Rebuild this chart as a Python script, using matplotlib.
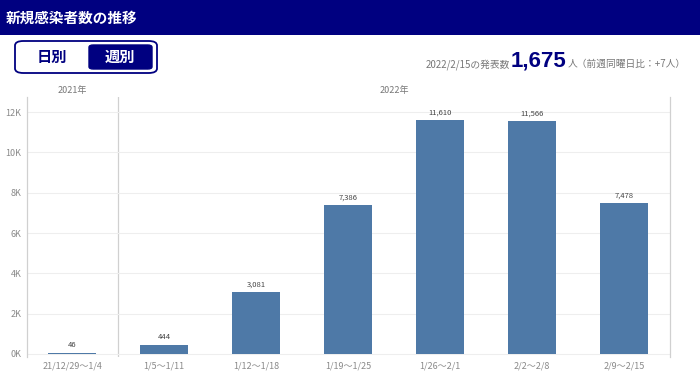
import matplotlib
matplotlib.use("Agg")
import matplotlib.pyplot as plt
from matplotlib.patches import Rectangle, FancyBboxPatch
import matplotlib.transforms as mtransforms

plt.rcParams['font.family'] = ['Noto Sans CJK JP', 'DejaVu Sans']

categories = ["21/12/29〜1/4", "1/5〜1/11", "1/12〜1/18", "1/19〜1/25",
              "1/26〜2/1", "2/2〜2/8", "2/9〜2/15"]
values = [46, 444, 3081, 7386, 11610, 11566, 7478]
yticks = [0, 2000, 4000, 6000, 8000, 10000, 12000]
ytick_labels = ["0K", "2K", "4K", "6K", "8K", "10K", "12K"]
year_labels = ["2021年", "2022年"]

NAVY = "#000080"
BAR = "#4E79A7"
W, H = 700, 376

fig = plt.figure(figsize=(7, 3.76), dpi=100)

def fx(px):
    return px / W

def fy(py):
    return 1 - py / H

# Header bar
fig.patches.append(Rectangle((0, fy(35)), 1, 35 / H, transform=fig.transFigure,
                             facecolor=NAVY, edgecolor='none', zorder=0))
fig.text(fx(6), fy(18), "新規感染者数の推移", color="white", fontsize=10.5,
         fontweight='bold', va='center', ha='left')

# Toggle
fig.patches.append(FancyBboxPatch((fx(15), fy(73)), fx(142), 32 / H,
                                  boxstyle="round,pad=0,rounding_size=0.012",
                                  transform=fig.transFigure, facecolor='white',
                                  edgecolor=NAVY, linewidth=1.3))
fig.patches.append(FancyBboxPatch((fx(89), fy(69)), fx(63), 24 / H,
                                  boxstyle="round,pad=0,rounding_size=0.006",
                                  transform=fig.transFigure, facecolor=NAVY,
                                  edgecolor=NAVY, linewidth=1))
fig.text(fx(52), fy(57), "日別", color=NAVY, fontsize=11, fontweight='bold',
         ha='center', va='center')
fig.text(fx(120), fy(57), "週別", color='white', fontsize=11, fontweight='bold',
         ha='center', va='center')

# Top right summary
fig.text(fx(510), fy(67), "2022/2/15の発表数", color="#777777", fontsize=7,
         ha='right', va='baseline')
fig.text(fx(511), fy(67), "1,675", color=NAVY, fontsize=16, fontweight='bold',
         ha='left', va='baseline', family=['Liberation Sans', 'DejaVu Sans'])
fig.text(fx(568), fy(67), "人（前週同曜日比：+7人）", color="#777777", fontsize=7,
         ha='left', va='baseline')

# Axes
ax = fig.add_axes([fx(27), fy(357), fx(643), (357 - 97) / H])
x = list(range(len(categories)))
ax.bar(x, values, width=0.53, color=BAR, zorder=3)
ax.set_xlim(-0.49, 6.5)
ax.set_ylim(-150, 12750)
ax.set_yticks(yticks)
ax.set_yticklabels(ytick_labels)
ax.set_xticks(x)
ax.set_xticklabels(categories)
ax.tick_params(axis='both', length=0, colors="#8a8a8a", labelsize=6.5)
ax.tick_params(axis='x', pad=3)
ax.tick_params(axis='y', pad=4)
ax.grid(axis='y', color="#eeeeee", linewidth=0.8, zorder=0)
for s in ['top', 'bottom']:
    ax.spines[s].set_visible(False)
for s in ['left', 'right']:
    ax.spines[s].set_color("#d0d0d0")
    ax.spines[s].set_linewidth(0.9)
ax.axvline(0.5, color="#d0d0d0", linewidth=0.9, zorder=1)

for xi, v in zip(x, values):
    ax.text(xi, v + 180, f"{v:,}", ha='center', va='bottom', fontsize=5.5,
            color="#444444")

trans = mtransforms.blended_transform_factory(ax.transData, fig.transFigure)
ax.text(0, fy(90), year_labels[0], transform=trans, ha='center', va='center',
        fontsize=6.5, color="#777777")
ax.text(3.5, fy(90), year_labels[1], transform=trans, ha='center', va='center',
        fontsize=6.5, color="#777777")

fig.savefig("out.png", dpi=100)
